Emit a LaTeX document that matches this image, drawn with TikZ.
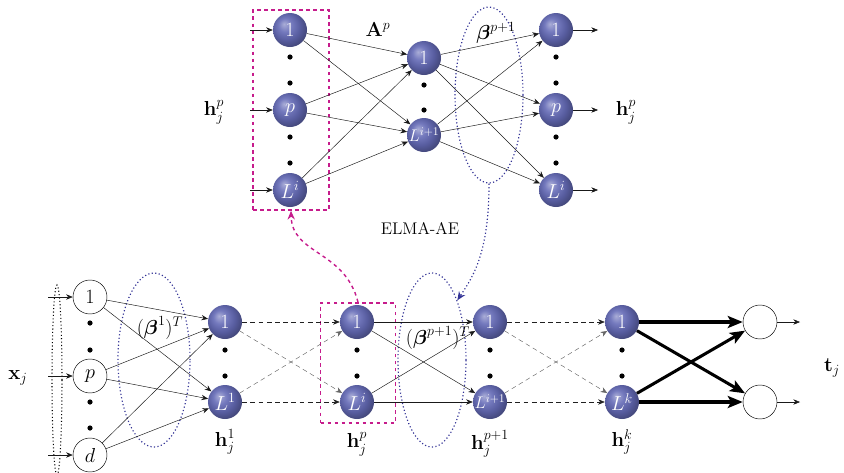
\documentclass[tikz,border=0pt]{standalone}
\usepackage{amsmath}
\usetikzlibrary{arrows.meta,shapes.geometric}
\definecolor{neuronblue}{RGB}{100,106,182}
\definecolor{boxmagenta}{RGB}{198,28,140}
\definecolor{dotblue}{RGB}{52,52,150}
\pgfdeclareradialshading{softball}{\pgfpoint{-9bp}{9bp}}{color(0bp)=(neuronblue!55!white); color(10bp)=(neuronblue!90!white); color(20bp)=(neuronblue!88!black); color(28bp)=(neuronblue!70!black); color(50bp)=(neuronblue!55!black)}
\begin{document}
\begin{tikzpicture}[
  x=0.03cm, y=-0.03cm,
  neuron/.style={circle, shading=softball, text=white, minimum size=1.02cm, inner sep=0pt, font=\LARGE},
  inputn/.style={circle, draw, fill=white, minimum size=1.02cm, inner sep=0pt, font=\LARGE},
  lbl/.style={font=\LARGE, inner sep=1pt},
  arrow/.style={-{Stealth[length=2mm,width=1.6mm]}, gray!20!black},
  dasharrow/.style={-{Stealth[length=2mm,width=1.6mm]}, dash pattern=on 4pt off 3pt, gray!25!black},
  crossarrow/.style={-{Stealth[length=2mm,width=1.6mm]}, dash pattern=on 4pt off 3pt, gray!80!black},
  thickarrow/.style={-{Stealth[length=4.5mm,width=3.6mm,inset=1mm]}, line width=2.6pt},
  hlbox/.style={draw=boxmagenta, dashed, line width=1.4pt, inner sep=0pt},
  hlarrow/.style={-{Stealth[length=2.6mm,width=2.2mm]}, draw=boxmagenta, dashed, line width=1.2pt},
  dotellipse/.style={draw=dotblue, dotted, line width=1pt, ellipse, inner sep=0pt},
  betaarrow/.style={-{Stealth[length=2.6mm,width=2.2mm]}, draw=dotblue, dotted, line width=1pt}
]
\useasboundingbox (0,0) rectangle (844,472);

\node[hlbox, minimum width=2.28cm, minimum height=6cm] (tbox) at (291,110) {};
\node[dotellipse, minimum width=2.04cm, minimum height=5.28cm] (tbeta) at (489,95) {};

\node[neuron] (t1) at (290,30) {1};
\node[neuron] (tp) at (290,110) {$p$};
\node[neuron] (tL) at (290,190) {$L^i$};
\node[neuron] (m1) at (424,58) {1};
\node[neuron, font=\Large] (mL) at (424,135) {$L^{i+1}$};
\node[neuron] (r1) at (556,30) {1};
\node[neuron] (rp) at (556,110) {$p$};
\node[neuron] (rL) at (556,190) {$L^i$};

\coordinate (ti1) at (250,30);
\coordinate (tip) at (250,110);
\coordinate (tiL) at (250,190);
\coordinate (ro1) at (598,30);
\coordinate (rop) at (598,110);
\coordinate (roL) at (598,190);

\fill (290,57) circle (2.6);
\fill (290,83) circle (2.6);
\fill (290,137) circle (2.6);
\fill (290,163) circle (2.6);
\fill (424,85) circle (2.6);
\fill (424,110) circle (2.6);
\fill (556,57) circle (2.6);
\fill (556,83) circle (2.6);
\fill (556,137) circle (2.6);
\fill (556,163) circle (2.6);

\node[lbl] (thp) at (214,112) {$\mathbf{h}_j^p$};
\node[lbl] (tap) at (378,30) {$\mathbf{A}^p$};
\node[lbl] (rhp) at (626,112) {$\mathbf{h}_j^p$};
\node[lbl] (tbl) at (496,33) {$\boldsymbol{\beta}^{p+1}$};
\node[font=\Large] (elma) at (420,228) {ELMA-AE};

\draw[arrow] (ti1) -- (t1);
\draw[arrow] (tip) -- (tp);
\draw[arrow] (tiL) -- (tL);
\draw[arrow] (t1) -- (m1);
\draw[arrow] (t1) -- (mL);
\draw[arrow] (tp) -- (m1);
\draw[arrow] (tp) -- (mL);
\draw[arrow] (tL) -- (m1);
\draw[arrow] (tL) -- (mL);
\draw[arrow] (m1) -- (r1);
\draw[arrow] (m1) -- (rp);
\draw[arrow] (m1) -- (rL);
\draw[arrow] (mL) -- (r1);
\draw[arrow] (mL) -- (rp);
\draw[arrow] (mL) -- (rL);
\draw[arrow] (r1) -- (ro1);
\draw[arrow] (rp) -- (rop);
\draw[arrow] (rL) -- (roL);

\node[draw, dotted, line width=0.9pt, ellipse, inner sep=0pt, minimum width=0.3cm, minimum height=5.7cm] (xell) at (57,380) {};
\node[dotellipse, minimum width=2.16cm, minimum height=5.22cm] (abeta) at (154,360) {};
\node[dotellipse, minimum width=2.04cm, minimum height=5.22cm] (cbeta) at (432,360) {};
\node[hlbox, minimum width=2.25cm, minimum height=3.6cm] (bbox) at (358,363) {};

\node[inputn] (x1) at (90,297) {1};
\node[inputn] (xp) at (90,376) {$p$};
\node[inputn] (xd) at (90,455) {$d$};
\node[neuron] (a1) at (225,322) {1};
\node[neuron] (aL) at (225,402) {$L^1$};
\node[neuron] (b1) at (357,322) {1};
\node[neuron] (bL) at (357,402) {$L^i$};
\node[neuron] (c1) at (490,322) {1};
\node[neuron, font=\Large] (cL) at (490,402) {$L^{i+1}$};
\node[neuron] (k1) at (622,322) {1};
\node[neuron] (kL) at (622,402) {$L^k$};
\node[inputn] (o1) at (760,322) {};
\node[inputn] (o2) at (760,402) {};

\coordinate (xi1) at (48,297);
\coordinate (xip) at (48,376);
\coordinate (xid) at (48,455);
\coordinate (to1) at (800,322);
\coordinate (to2) at (800,402);

\fill (90,323) circle (2.6);
\fill (90,350) circle (2.6);
\fill (90,402) circle (2.6);
\fill (90,428) circle (2.6);
\fill (225,350) circle (2.6);
\fill (225,376) circle (2.6);
\fill (357,350) circle (2.6);
\fill (357,376) circle (2.6);
\fill (490,350) circle (2.6);
\fill (490,376) circle (2.6);
\fill (622,350) circle (2.6);
\fill (622,376) circle (2.6);

\node[lbl] (xj) at (18,378) {$\mathbf{x}_j$};
\node[lbl] (abl) at (160,328) {$(\boldsymbol{\beta}^1)^T$};
\node[lbl] (cbl) at (438,338) {$(\boldsymbol{\beta}^{p+1})^T$};
\node[lbl] (ah) at (225,442) {$\mathbf{h}_j^1$};
\node[lbl] (bh) at (357,444) {$\mathbf{h}_j^p$};
\node[lbl] (ch) at (490,444) {$\mathbf{h}_j^{p+1}$};
\node[lbl] (kh) at (622,442) {$\mathbf{h}_j^k$};
\node[lbl] (tj) at (832,368) {$\mathbf{t}_j$};

\draw[arrow] (xi1) -- (x1);
\draw[arrow] (xip) -- (xp);
\draw[arrow] (xid) -- (xd);
\draw[arrow] (x1) -- (a1);
\draw[arrow] (x1) -- (aL);
\draw[arrow] (xp) -- (a1);
\draw[arrow] (xp) -- (aL);
\draw[arrow] (xd) -- (a1);
\draw[arrow] (xd) -- (aL);
\draw[dasharrow] (a1) -- (b1);
\draw[dasharrow] (aL) -- (bL);
\draw[crossarrow] (a1) -- (bL);
\draw[crossarrow] (aL) -- (b1);
\draw[arrow] (b1) -- (c1);
\draw[arrow] (b1) -- (cL);
\draw[arrow] (bL) -- (c1);
\draw[arrow] (bL) -- (cL);
\draw[dasharrow] (c1) -- (k1);
\draw[dasharrow] (cL) -- (kL);
\draw[crossarrow] (c1) -- (kL);
\draw[crossarrow] (cL) -- (k1);
\draw[thickarrow] (k1) -- (o1);
\draw[thickarrow] (k1) -- (o2);
\draw[thickarrow] (kL) -- (o1);
\draw[thickarrow] (kL) -- (o2);
\draw[arrow] (o1) -- (to1);
\draw[arrow] (o2) -- (to2);

\draw[hlarrow] (bbox.north) .. controls (345,250) and (292,255) .. (tbox.south);
\draw[betaarrow] (tbeta.south) .. controls (489,255) and (472,278) .. (cbeta.67);
\end{tikzpicture}
\end{document}
